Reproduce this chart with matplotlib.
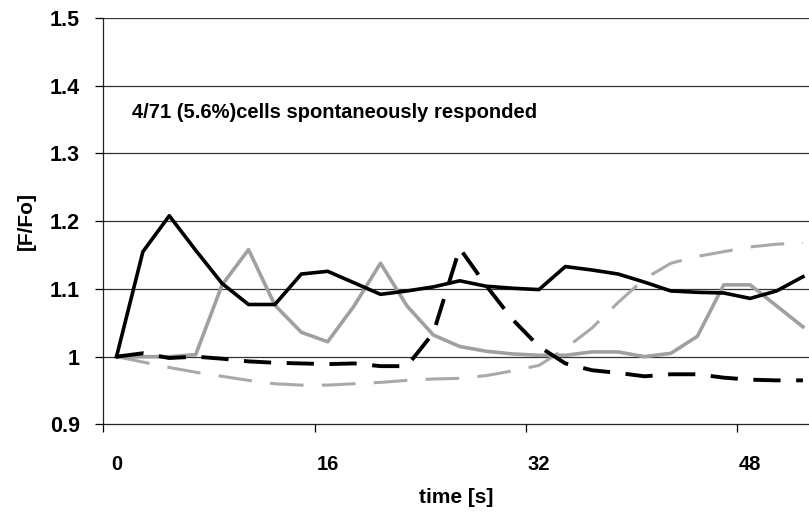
import matplotlib

matplotlib.use('Agg')

import numpy as np
import matplotlib.pyplot as plt


# sampling every 2 s, 27 frames
TIME_S = np.arange(0, 54, 2)

# F/Fo traces of the 4 responding cells
CELL_A = [1.000, 1.155, 1.208, 1.157, 1.108, 1.077, 1.077, 1.122, 1.126, 1.109,
          1.092, 1.097, 1.103, 1.112, 1.104, 1.101, 1.099, 1.133, 1.128, 1.122,
          1.110, 1.097, 1.095, 1.094, 1.086, 1.097, 1.118]
CELL_B = [1.000, 1.005, 0.998, 1.000, 0.997, 0.993, 0.991, 0.990, 0.989, 0.990,
          0.986, 0.986, 1.035, 1.160, 1.105, 1.055, 1.015, 0.990, 0.980, 0.976,
          0.971, 0.974, 0.974, 0.969, 0.966, 0.965, 0.965]
CELL_C = [1.000, 1.000, 1.000, 1.003, 1.106, 1.158, 1.076, 1.036, 1.022, 1.075,
          1.138, 1.075, 1.032, 1.015, 1.008, 1.004, 1.002, 1.002, 1.007, 1.007,
          1.000, 1.005, 1.030, 1.106, 1.106, 1.075, 1.044]
CELL_D = [1.000, 0.992, 0.984, 0.977, 0.971, 0.965, 0.960, 0.958, 0.958, 0.960,
          0.962, 0.965, 0.967, 0.968, 0.972, 0.979, 0.987, 1.012, 1.042, 1.080,
          1.115, 1.138, 1.148, 1.155, 1.162, 1.166, 1.168]

X_LABELS = ['0', '16', '32', '48']
Y_TICKS = [0.9, 1.0, 1.1, 1.2, 1.3, 1.4, 1.5]
NOTE = '4/71 (5.6%)cells spontaneously responded'

BOLD = ['Liberation Sans', 'DejaVu Sans']


def plot_traces(filename='out.png'):
    fig = plt.figure(figsize=(8.09, 5.18), dpi=100)
    ax = fig.add_axes([0.1277, 0.1807, 0.8723, 0.7846])

    # grid first so the traces sit on top
    for y in Y_TICKS[1:]:
        ax.axhline(y, color='#333333', linewidth=0.9, zorder=1)

    ax.plot(TIME_S, CELL_D, color='#a9a9a9', linewidth=2.2, dashes=(11, 6), zorder=2)
    ax.plot(TIME_S, CELL_C, color='#a0a0a0', linewidth=2.6, zorder=3)
    ax.plot(TIME_S, CELL_B, color='black', linewidth=2.8, dashes=(7, 4), zorder=4)
    ax.plot(TIME_S, CELL_A, color='black', linewidth=2.6, zorder=5)

    ax.set_ylim(0.9, 1.5)
    ax.set_xlim(-1, 52.46)

    # category style axis: tick marks between frames, labels on the frame
    lab_pos = [int(s) for s in X_LABELS]
    ax.set_xticks([p - 1 for p in lab_pos])
    ax.set_xticklabels([])
    ax.set_xticks(lab_pos, minor=True)
    ax.set_xticklabels(X_LABELS, minor=True, fontsize=14.5, fontweight='bold', family=BOLD)
    ax.tick_params(axis='x', which='major', direction='out', length=6, width=0.9)
    ax.tick_params(axis='x', which='minor', length=0, pad=22)

    ax.set_yticks(Y_TICKS)
    ax.set_yticklabels([f'{v:g}' if v != 1.0 else '1' for v in Y_TICKS],
                       fontsize=15.5, fontweight='bold', family=BOLD)
    ax.tick_params(axis='y', direction='out', length=6, width=0.9, pad=11)

    for side in ('top', 'right'):
        ax.spines[side].set_visible(False)
    for side in ('left', 'bottom'):
        ax.spines[side].set_linewidth(0.9)
        ax.spines[side].set_color('#222222')

    ax.set_xlabel('time [s]', fontsize=15, fontweight='bold', family=BOLD, labelpad=10)
    ax.set_ylabel('[F/Fo]', fontsize=15, fontweight='bold', family=BOLD, labelpad=10)

    ax.text(1.2, 1.361, NOTE, fontsize=14.5, fontweight='bold', family=BOLD,
            va='center', ha='left', zorder=6)

    fig.savefig(filename, dpi=100)


if __name__ == '__main__':
    plot_traces()
